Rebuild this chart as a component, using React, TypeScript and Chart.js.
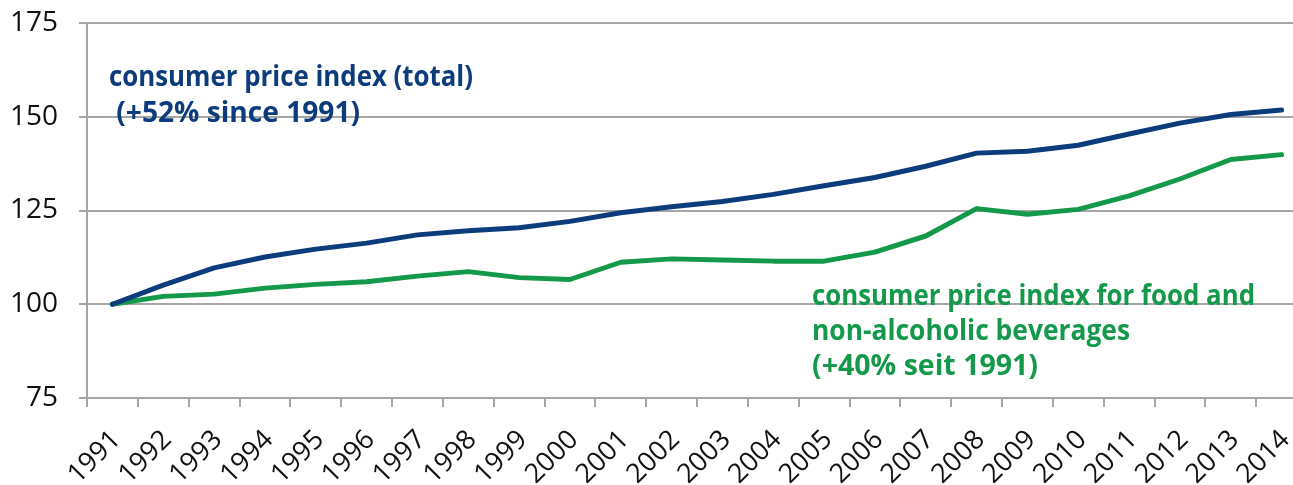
import React, { useEffect, useRef } from "react";
import { Chart, registerables } from "chart.js";

Chart.register(...registerables);

const years = [
  "1991", "1992", "1993", "1994", "1995", "1996", "1997", "1998", "1999", "2000",
  "2001", "2002", "2003", "2004", "2005", "2006", "2007", "2008", "2009", "2010",
  "2011", "2012", "2013", "2014",
];

const cpiTotal = [
  100, 105.1, 109.7, 112.6, 114.7, 116.3, 118.5, 119.6, 120.4, 122.1,
  124.4, 126.0, 127.4, 129.3, 131.6, 133.8, 136.8, 140.3, 140.8, 142.4,
  145.4, 148.3, 150.6, 151.8,
];

const cpiFood = [
  100, 102.1, 102.7, 104.3, 105.3, 106.0, 107.5, 108.7, 107.1, 106.6,
  111.2, 112.1, 111.8, 111.5, 111.5, 113.9, 118.2, 125.5, 124.0, 125.3,
  128.9, 133.4, 138.6, 139.9,
];

const yTicks = [75, 100, 125, 150, 175];

const blueLabel = ["consumer price index (total)", " (+52% since 1991)"];
const greenLabel = [
  "consumer price index for food and",
  "non-alcoholic beverages",
  "(+40% seit 1991)",
];

const BLUE = "#0d3c7c";
const GREEN = "#14994a";
const GRID = "#a6a6a6";

const annotationPlugin = {
  id: "annotations",
  afterDatasetsDraw(chart: any) {
    const ctx = chart.ctx;
    ctx.save();
    const drawFit = (text: string, x: number, y: number, target: number, color: string) => {
      ctx.font = "bold 28px 'Open Sans'";
      ctx.fillStyle = color;
      ctx.textBaseline = "alphabetic";
      ctx.textAlign = "left";
      const w = ctx.measureText(text).width;
      const s = target / w;
      ctx.save();
      ctx.translate(x, y);
      ctx.scale(s, 1);
      ctx.fillText(text, 0, 0);
      ctx.restore();
    };
    drawFit(blueLabel[0], 109, 86, 364, BLUE);
    drawFit(blueLabel[1], 109, 122, 251, BLUE);
    drawFit(greenLabel[0], 812, 305, 443, GREEN);
    drawFit(greenLabel[1], 812, 340, 318, GREEN);
    drawFit(greenLabel[2], 812, 375, 226, GREEN);
    ctx.restore();
  },
};

export default function App() {
  const ref = useRef<HTMLCanvasElement | null>(null);

  useEffect(() => {
    document.body.style.margin = "0";
    document.body.style.overflow = "hidden";
    const canvas = ref.current;
    if (!canvas) return;
    const chart = new Chart(canvas, {
      type: "line",
      data: {
        labels: years,
        datasets: [
          {
            data: cpiTotal,
            borderColor: BLUE,
            borderWidth: 5,
            pointRadius: 0,
            tension: 0,
            borderCapStyle: "round",
            borderJoinStyle: "round",
          },
          {
            data: cpiFood,
            borderColor: GREEN,
            borderWidth: 5,
            pointRadius: 0,
            tension: 0,
            borderCapStyle: "round",
            borderJoinStyle: "round",
          },
        ],
      },
      options: {
        responsive: false,
        animation: false,
        layout: { padding: { top: 23, right: 3, left: 0, bottom: 0 } },
        plugins: {
          legend: { display: false },
          tooltip: { enabled: false },
        },
        scales: {
          x: {
            type: "category",
            offset: true,
            grid: {
              offset: true,
              drawOnChartArea: false,
              drawTicks: true,
              tickLength: 9,
              color: GRID,
              lineWidth: 2,
            },
            border: { display: true, color: GRID, width: 2 },
            ticks: {
              minRotation: 45,
              maxRotation: 45,
              autoSkip: false,
              padding: 17,
              labelOffset: 4,
              color: "#111",
              font: { family: "'Open Sans'", size: 27 },
            },
            afterFit(scale: any) {
              scale.height = 87;
              scale.paddingLeft = 0;
              scale.paddingRight = 0;
            },
          },
          y: {
            min: 75,
            max: 175,
            afterBuildTicks(scale: any) {
              scale.ticks = yTicks.map((v) => ({ value: v }));
            },
            grid: {
              color: GRID,
              lineWidth: 2,
              tickLength: 8,
              drawTicks: true,
            },
            border: { display: true, color: GRID, width: 2 },
            ticks: {
              padding: 21,
              color: "#111",
              font: { family: "'Open Sans'", size: 28 },
            },
            afterFit(scale: any) {
              scale.width = 87;
              scale.paddingTop = 0;
              scale.paddingBottom = 0;
            },
          },
        },
      },
      plugins: [annotationPlugin],
    });
    return () => chart.destroy();
  }, []);

  return (
    <div style={{ width: 1293, height: 485, overflow: "hidden", position: "relative" }}>
      <canvas ref={ref} width={1310} height={485} style={{ display: "block" }} />
    </div>
  );
}
